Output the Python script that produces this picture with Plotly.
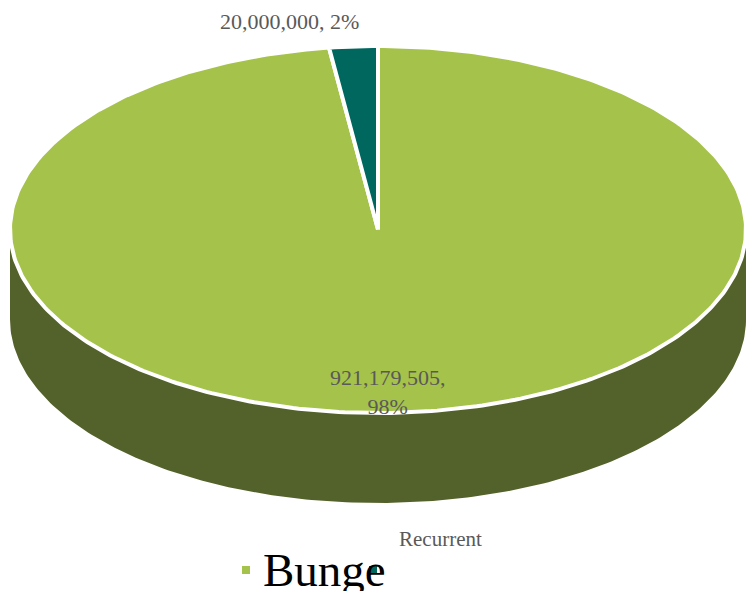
import numpy as np
import plotly.graph_objects as go

categories = ["Bunge", "Recurrent"]
values = [921179505, 20000000]
percent_labels = ["98%", "2%"]
top_colors = ["#A5C24A", "#00675F"]
side_colors = ["#53612A", "#003A36"]

W, H = 746, 591
cx, cy, rx, ry, depth = 378, 229.5, 368, 183.5, 90

def pt(phi, dy=0.0):
    return cx + rx * np.sin(phi), cy - ry * np.cos(phi) + dy

total = sum(values)
fracs = [v / total for v in values]
bounds = np.concatenate([[0], np.cumsum(fracs)]) * 2 * np.pi

fig = go.Figure()

# side walls (front half only: phi in [pi/2, 3pi/2])
for i in range(len(values)):
    a0, a1 = max(bounds[i], np.pi / 2), min(bounds[i + 1], 3 * np.pi / 2)
    if a1 <= a0:
        continue
    ph = np.linspace(a0, a1, 200)
    xt, yt = pt(ph)
    xb, yb = pt(ph[::-1], depth)
    fig.add_trace(go.Scatter(x=np.concatenate([xt, xb]), y=np.concatenate([yt, yb]),
                             fill="toself", fillcolor=side_colors[i], mode="lines",
                             line=dict(width=0, color=side_colors[i]),
                             hoverinfo="skip", showlegend=False))

# top faces
for i in range(len(values)):
    ph = np.linspace(bounds[i], bounds[i + 1], max(10, int(400 * fracs[i])))
    xs, ys = pt(ph)
    xs = np.concatenate([[cx], xs, [cx]])
    ys = np.concatenate([[cy], ys, [cy]])
    fig.add_trace(go.Scatter(x=xs, y=ys, fill="toself", fillcolor=top_colors[i],
                             mode="lines", line=dict(width=4, color="white"),
                             name=categories[i], hoverinfo="skip", showlegend=False))

# data labels
annots = []
lab_font = dict(family="Liberation Serif", size=22, color="#595959")
annots.append(dict(x=388, y=392, xref="x", yref="y",
                   text=f"{values[0]:,},<br>{percent_labels[0]}",
                   showarrow=False, font=lab_font, align="center"))
annots.append(dict(x=289, y=21, xref="x", yref="y",
                   text=f"{values[1]:,}, {percent_labels[1]}",
                   showarrow=False, font=lab_font))

# legend (as rendered in reference)
annots.append(dict(x=261, y=570, xref="x", yref="y", xanchor="left", yanchor="middle",
                   text=categories[0], showarrow=False,
                   font=dict(family="Liberation Serif", size=47, color="black")))
annots.append(dict(x=397, y=539, xref="x", yref="y", xanchor="left", yanchor="middle",
                   text=categories[1], showarrow=False,
                   font=dict(family="Liberation Serif", size=21, color="#595959")))

shapes = [
    dict(type="rect", xref="x", yref="y", x0=242, x1=250, y0=566, y1=574,
         fillcolor=top_colors[0], line=dict(width=0)),
    dict(type="rect", xref="x", yref="y", x0=369, x1=377, y0=566, y1=574,
         fillcolor=top_colors[1], line=dict(width=0), layer="above"),
]

fig.update_layout(
    width=W, height=H, margin=dict(l=0, r=0, t=0, b=0),
    paper_bgcolor="white", plot_bgcolor="white",
    xaxis=dict(range=[0, W], visible=False, fixedrange=True),
    yaxis=dict(range=[H, 0], visible=False, fixedrange=True),
    annotations=annots, shapes=shapes, showlegend=False,
)

fig.write_html("out.html")
